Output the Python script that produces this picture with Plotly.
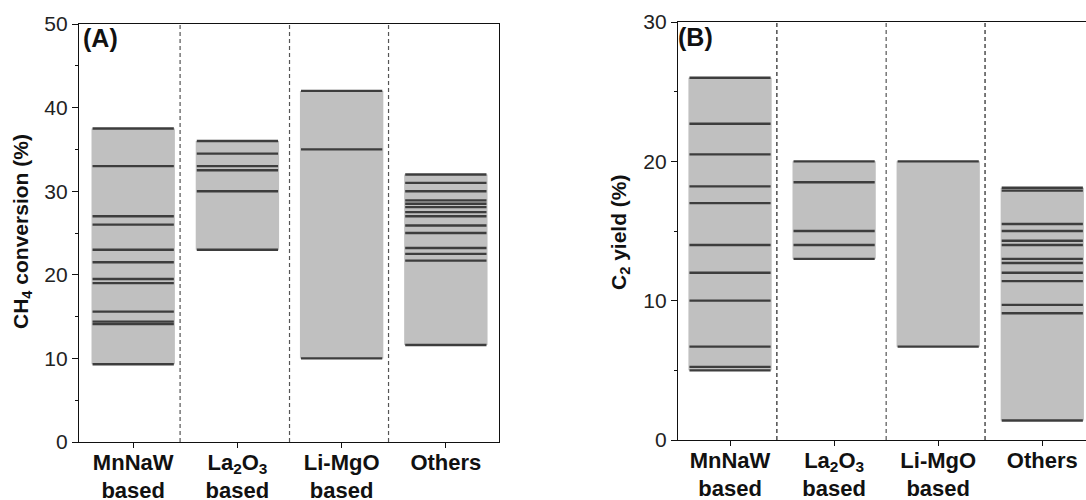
import plotly.graph_objects as go

# ---------------- data ----------------
categories = ["MnNaW<br>based", "La<sub>2</sub>O<sub>3</sub><br>based", "Li-MgO<br>based", "Others"]
cat_pos = [1, 2, 3, 4]

conv_mnnaw = [37.5, 33.0, 27.0, 26.0, 23.0, 21.5, 19.5, 19.0, 15.6, 14.4, 14.1, 9.3]
conv_la2o3 = [36.0, 34.5, 33.0, 32.5, 30.0, 23.0]
conv_limgo = [42.0, 35.0, 10.0]
conv_others = [32.0, 31.0, 30.0, 28.9, 28.5, 28.1, 27.5, 27.0, 25.9, 25.0, 23.2, 22.5, 21.7, 11.6]

yield_mnnaw = [26.0, 22.7, 20.5, 18.2, 17.0, 14.0, 12.0, 10.0, 6.7, 5.25, 5.0]
yield_la2o3 = [20.0, 18.5, 15.0, 14.0, 13.0]
yield_limgo = [20.0, 6.7]
yield_others = [18.1, 17.9, 15.5, 15.0, 14.3, 14.0, 13.0, 12.7, 12.0, 11.4, 9.7, 9.1, 1.4]

conv_groups = [conv_mnnaw, conv_la2o3, conv_limgo, conv_others]
yield_groups = [yield_mnnaw, yield_la2o3, yield_limgo, yield_others]
dividers = [1.45, 2.5, 3.45]

# ---------------- style ----------------
W, H = 1086, 500
BAR_W = 0.8
LINE_HALF = 0.39
BAR_COLOR = "#c0c0c0"
LINE_COLOR = "#3d3d3d"
FONT = "Liberation Sans, Arial, sans-serif"

fig = go.Figure()


def add_panel(groups, xa, ya, div_colors):
    mins = [min(g) for g in groups]
    maxs = [max(g) for g in groups]
    fig.add_trace(go.Bar(
        x=cat_pos, y=[b - a for a, b in zip(mins, maxs)], base=mins,
        width=BAR_W, marker=dict(color=BAR_COLOR, line=dict(width=0)),
        xaxis=xa, yaxis=ya, showlegend=False, hoverinfo="skip"))
    xs, ys = [], []
    for c, g in zip(cat_pos, groups):
        for v in g:
            xs += [c - LINE_HALF, c + LINE_HALF, None]
            ys += [v, v, None]
    fig.add_trace(go.Scatter(
        x=xs, y=ys, mode="lines", line=dict(color=LINE_COLOR, width=2.4),
        xaxis=xa, yaxis=ya, showlegend=False, hoverinfo="skip"))
    for d, col in zip(dividers, div_colors):
        fig.add_shape(type="line", x0=d, x1=d, y0=0, y1=1,
                      xref=xa, yref=ya + " domain",
                      line=dict(color=col, width=1.2, dash="4px,3px"))


add_panel(conv_groups, "x", "y", ["#555555", "#555555", "#555555"])
add_panel(yield_groups, "x2", "y2", ["#222222", "#555555", "#222222"])

axis_line = dict(showline=True, linecolor="#111111", linewidth=1.3,
                 showgrid=False, zeroline=False)
tickfont_num = dict(family=FONT, size=21, color="#222222")
tickfont_cat = dict(family=FONT, size=22, color="#111111", weight="bold")

fig.update_layout(
    xaxis=dict(domain=[79 / W, 499 / W], range=[0.48, 4.51], anchor="y",
               tickvals=cat_pos, ticktext=categories, ticks="outside",
               ticklen=5, tickcolor="#111111", tickfont=tickfont_cat,
               ticklabelstandoff=-5,
               mirror=True, automargin=False, **axis_line),
    yaxis=dict(domain=[(H - 442) / H, (H - 24) / H], range=[0, 50], anchor="x",
               tickvals=[0, 10, 20, 30, 40, 50], ticks="outside", ticklen=6,
               tickcolor="#111111", tickfont=tickfont_num,
               minor=dict(tickvals=[5, 15, 25, 35, 45], ticks="outside", ticklen=3,
                          tickcolor="#111111"),
               mirror=True, automargin=False, **axis_line),
    xaxis2=dict(domain=[678 / W, 1.0], range=[0.5, 4.42], anchor="y2",
                tickvals=cat_pos, ticktext=categories, ticks="outside",
                ticklen=5, tickcolor="#111111", tickfont=tickfont_cat,
                ticklabelstandoff=-5,
                mirror=True, automargin=False, **axis_line),
    yaxis2=dict(domain=[(H - 440) / H, (H - 22) / H], range=[0, 30], anchor="x2",
                tickvals=[0, 10, 20, 30], ticks="outside", ticklen=6,
                tickcolor="#111111", tickfont=tickfont_num,
                minor=dict(tickvals=[5, 15, 25], ticks="outside", ticklen=3,
                           tickcolor="#111111"),
                mirror=False, automargin=False, **axis_line),
)

annotations = [
    dict(text="<b>CH<sub>4</sub> conversion (%)</b>", x=22 / W, y=(H - 232) / H,
         xref="paper", yref="paper", textangle=-90, showarrow=False,
         font=dict(family=FONT, size=21, color="#111111"),
         xanchor="center", yanchor="middle"),
    dict(text="<b>C<sub>2</sub> yield (%)</b>", x=620 / W, y=(H - 232) / H,
         xref="paper", yref="paper", textangle=-90, showarrow=False,
         font=dict(family=FONT, size=21, color="#111111"),
         xanchor="center", yanchor="middle"),
    dict(text="<b>(A)</b>", x=81 / W, y=(H - 38) / H, xref="paper", yref="paper",
         showarrow=False, font=dict(family=FONT, size=25, color="#111111"),
         xanchor="left", yanchor="middle"),
    dict(text="<b>(B)</b>", x=676 / W, y=(H - 37) / H, xref="paper", yref="paper",
         showarrow=False, font=dict(family=FONT, size=25, color="#111111"),
         xanchor="left", yanchor="middle"),
]

fig.update_layout(
    width=W, height=H,
    margin=dict(l=0, r=0, t=0, b=0),
    paper_bgcolor="white", plot_bgcolor="white",
    barmode="overlay",
    annotations=annotations,
    font=dict(family=FONT),
)

fig.write_html(
    "out.html",
    config={"displayModeBar": False},
    post_script="document.documentElement.style.margin='0';"
                "document.body.style.margin='0';"
                "document.body.style.overflow='hidden';",
)
